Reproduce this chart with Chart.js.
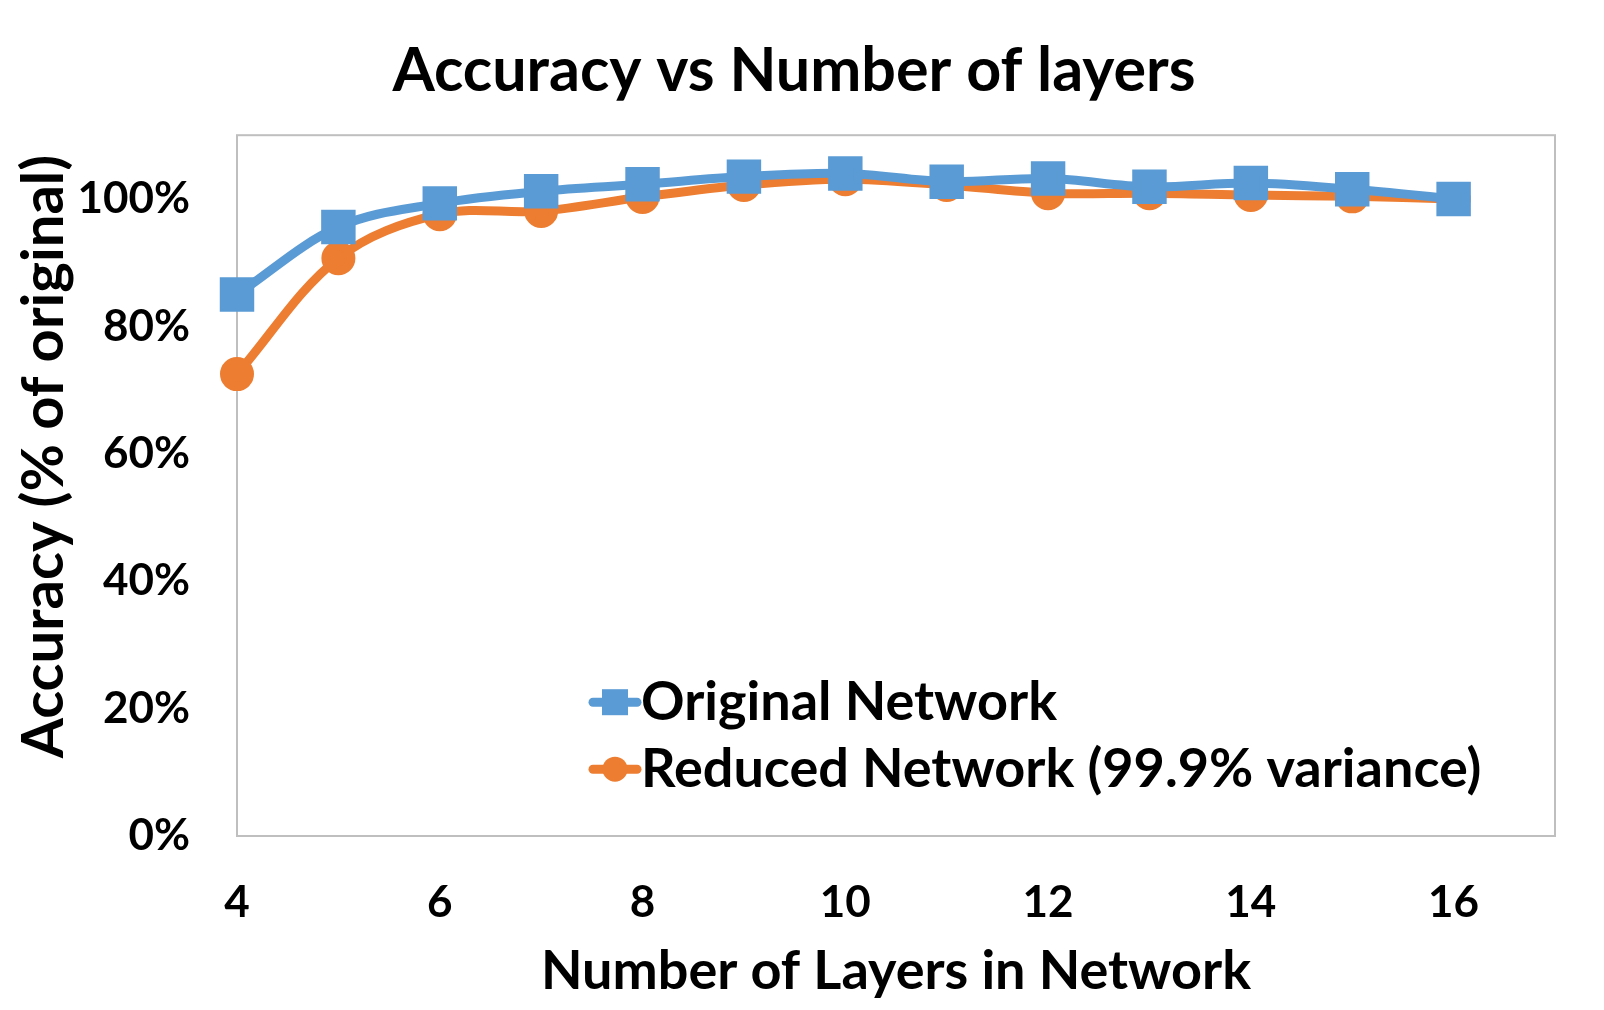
<!DOCTYPE html>
<html>
<head>
<meta charset="utf-8">
<script src="https://cdn.jsdelivr.net/npm/chart.js@4"></script>
<style>
  html, body { margin: 0; padding: 0; background: #fff; }
  #wrap { width: 1604px; height: 1010px; }
</style>
</head>
<body>
<div id="wrap"><canvas id="accChart"></canvas></div>
<script>
const layers = [4, 5, 6, 7, 8, 9, 10, 11, 12, 13, 14, 15, 16];
const originalNet = [85.0, 95.6, 99.3, 101.2, 102.3, 103.5, 104.0, 102.7, 103.2, 101.9, 102.5, 101.5, 100.0];
const reducedNet = [72.5, 90.7, 97.6, 98.1, 100.3, 102.2, 103.1, 102.2, 100.9, 100.9, 100.6, 100.4, 100.0];
const xTicks = [4, 6, 8, 10, 12, 14, 16];
const yTicks = [0, 20, 40, 60, 80, 100];
const seriesNames = ["Original Network", "Reduced Network (99.9% variance)"];

const BLUE = "#5B9BD5";
const ORANGE = "#ED7D31";
const FONT = "Lato, 'Open Sans', sans-serif";

// box round the plot area, like the excel frame
const frame = {
  id: "frame",
  afterLayout(chart) {
    // excel centres the title on the whole image and the y title a bit higher
    chart.titleBlock.right = chart.width - 16;
    chart.scales.y.bottom -= 58;
  },
  beforeDatasetsDraw(chart) {
    const { ctx, chartArea: a } = chart;
    ctx.save();
    ctx.strokeStyle = "#BFBFBF";
    ctx.lineWidth = 2;
    ctx.strokeRect(a.left, a.top, a.right - a.left, a.bottom - a.top);
    ctx.restore();
  },
};

// legend sits inside the plot, near the bottom
const insideLegend = {
  id: "insideLegend",
  afterDraw(chart) {
    const { ctx, chartArea: a } = chart;
    const x0 = a.left + 356;
    const rows = [a.top + 567, a.top + 634];
    ctx.save();
    chart.data.datasets.forEach((ds, i) => {
      const y = rows[i];
      ctx.strokeStyle = ds.borderColor;
      ctx.lineWidth = 9;
      ctx.lineCap = "round";
      ctx.beginPath();
      ctx.moveTo(x0, y);
      ctx.lineTo(x0 + 44, y);
      ctx.stroke();
      ctx.fillStyle = ds.backgroundColor;
      if (ds.pointStyle === "rect") {
        ctx.fillRect(x0 + 22 - 13, y - 13, 26, 26);
      } else {
        ctx.beginPath();
        ctx.arc(x0 + 22, y, 12.5, 0, Math.PI * 2);
        ctx.fill();
      }
      ctx.fillStyle = "#000";
      ctx.font = "bold 54px " + FONT;
      ctx.textBaseline = "middle";
      ctx.textAlign = "left";
      ctx.fillText(ds.label, x0 + 48, y);
    });
    ctx.restore();
  },
};

new Chart(document.getElementById("accChart"), {
  type: "line",
  data: {
    datasets: [
      {
        label: seriesNames[0],
        data: layers.map((x, i) => ({ x, y: originalNet[i] })),
        borderColor: BLUE,
        backgroundColor: BLUE,
        borderWidth: 9,
        pointStyle: "rect",
        pointRadius: 18,
        pointHoverRadius: 18,
        tension: 0.35,
        clip: false,
      },
      {
        label: seriesNames[1],
        data: layers.map((x, i) => ({ x, y: reducedNet[i] })),
        borderColor: ORANGE,
        backgroundColor: ORANGE,
        borderWidth: 9,
        pointStyle: "circle",
        pointRadius: 12.5,
        pointHoverRadius: 12.5,
        tension: 0.35,
        clip: false,
      },
    ],
  },
  options: {
    responsive: true,
    maintainAspectRatio: false,
    animation: false,
    events: [],
    layout: { padding: { left: 0, right: 49, top: 0, bottom: 0 } },
    plugins: {
      legend: { display: false },
      tooltip: { enabled: false },
      title: {
        display: true,
        text: "Accuracy vs Number of layers",
        color: "#000",
        font: { family: FONT, size: 61, weight: "bold" },
        padding: { top: 35, bottom: 27 },
      },
    },
    scales: {
      x: {
        type: "linear",
        min: 4,
        max: 17,
        afterFit: (s) => { s.height = 174; },
        afterBuildTicks: (s) => { s.ticks = xTicks.map((v) => ({ value: v })); },
        grid: { display: false, drawTicks: false },
        border: { display: false },
        ticks: {
          color: "#000",
          padding: 40,
          font: { family: FONT, size: 44, weight: "bold" },
        },
        title: {
          display: true,
          text: "Number of Layers in Network",
          color: "#000",
          font: { family: FONT, size: 54, weight: "bold" },
          padding: { top: 0, bottom: 6 },
        },
      },
      y: {
        min: 0,
        max: 110,
        afterFit: (s) => { s.width = 237; },
        afterBuildTicks: (s) => { s.ticks = yTicks.map((v) => ({ value: v })); },
        grid: { display: false, drawTicks: false },
        border: { display: false },
        ticks: {
          color: "#000",
          padding: 47,
          font: { family: FONT, size: 44, weight: "bold" },
          callback: (v) => v + "%",
        },
        title: {
          display: true,
          text: "Accuracy (% of original)",
          color: "#000",
          font: { family: FONT, size: 58, weight: "bold" },
          padding: { top: 9, bottom: 0 },
        },
      },
    },
  },
  plugins: [frame, insideLegend],
});
</script>
</body>
</html>
